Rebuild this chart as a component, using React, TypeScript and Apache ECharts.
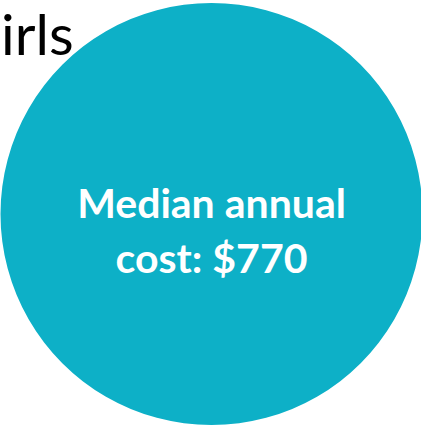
import React, { useEffect, useRef } from "react";
import * as echarts from "echarts";

const categories = ["irls"];
const medianCost = [770];
const labelLines = ["Median annual", "cost: $770"];

export default function App() {
  const ref = useRef<HTMLDivElement>(null);
  useEffect(() => {
    if (!ref.current) return;
    const chart = echarts.init(ref.current, null, { renderer: "svg" });
    chart.setOption({
      animation: false,
      backgroundColor: "#ffffff",
      graphic: [
        {
          type: "text",
          left: 1,
          top: 4,
          z: 10,
          style: {
            text: categories[0],
            font: "57px Lato, sans-serif",
            fill: "#000000",
          },
        },
      ],
      series: [
        {
          type: "pie",
          center: [211.5, 214],
          radius: [0, 211],
          silent: true,
          z: 1,
          itemStyle: { color: "#0DB0C7" },
          label: {
            show: true,
            position: "center",
            formatter: labelLines.join("\n"),
            color: "#ffffff",
            fontFamily: "Lato, sans-serif",
            fontWeight: "bold",
            fontSize: 41,
            lineHeight: 55,
          },
          labelLayout: { dy: 16 },
          labelLine: { show: false },
          data: [{ name: categories[0], value: medianCost[0] }],
        },
      ],
    });
    return () => chart.dispose();
  }, []);
  return (
    <div
      ref={ref}
      style={{ position: "fixed", left: 0, top: 0, width: 421, height: 428 }}
    />
  );
}
